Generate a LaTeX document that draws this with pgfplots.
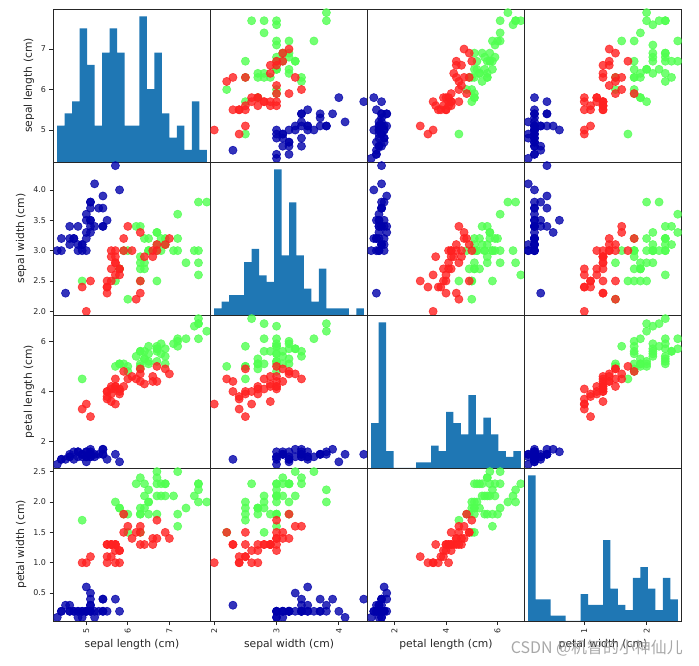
\documentclass[border=0pt]{standalone}
\usepackage{fontspec}
\setmainfont{DejaVu Sans}
\newfontfamily\cjk{Noto Sans CJK SC}
\usepackage{pgfplots}
\usepackage{pgfplotstable}
\pgfplotsset{compat=1.18}

\definecolor{cset}{HTML}{0000AA}
\definecolor{cver}{HTML}{FF2020}
\definecolor{cvir}{HTML}{50FF50}
\definecolor{histblue}{HTML}{1F77B4}

% training part of the iris data (112 samples)
\pgfplotstableread{
sl sw pl pw
5.1 3.5 1.4 0.2
4.9 3.0 1.4 0.2
4.7 3.2 1.3 0.2
4.6 3.1 1.5 0.2
5.0 3.6 1.4 0.2
5.4 3.9 1.7 0.4
4.6 3.4 1.4 0.3
4.9 3.1 1.5 0.1
5.4 3.7 1.5 0.2
4.8 3.4 1.6 0.2
4.8 3.0 1.4 0.1
4.3 3.0 1.1 0.1
5.8 4.0 1.2 0.2
5.7 4.4 1.5 0.4
5.1 3.5 1.4 0.3
5.1 3.8 1.5 0.3
5.4 3.4 1.7 0.2
5.1 3.7 1.5 0.4
5.1 3.3 1.7 0.5
5.0 3.0 1.6 0.2
5.2 3.4 1.4 0.2
4.7 3.2 1.6 0.2
4.8 3.1 1.6 0.2
5.4 3.4 1.5 0.4
5.2 4.1 1.5 0.1
4.9 3.1 1.5 0.2
5.0 3.2 1.2 0.2
5.5 3.5 1.3 0.2
4.4 3.0 1.3 0.2
5.1 3.4 1.5 0.2
4.5 2.3 1.3 0.3
4.4 3.2 1.3 0.2
5.0 3.5 1.6 0.6
5.1 3.8 1.6 0.2
4.6 3.2 1.4 0.2
5.3 3.7 1.5 0.2
5.0 3.3 1.4 0.2
}\setosa

\pgfplotstableread{
sl sw pl pw
7.0 3.2 4.7 1.4
6.9 3.1 4.9 1.5
5.5 2.3 4.0 1.3
5.7 2.8 4.5 1.3
6.3 3.3 4.7 1.6
4.9 2.4 3.3 1.0
6.6 2.9 4.6 1.3
5.0 2.0 3.5 1.0
5.9 3.0 4.2 1.5
5.6 2.9 3.6 1.3
6.7 3.1 4.4 1.4
5.8 2.7 4.1 1.0
6.2 2.2 4.5 1.5
5.6 2.5 3.9 1.1
5.9 3.2 4.8 1.8
6.3 2.5 4.9 1.5
6.4 2.9 4.3 1.3
6.6 3.0 4.4 1.4
6.7 3.0 5.0 1.7
5.7 2.6 3.5 1.0
5.5 2.4 3.8 1.1
5.5 2.4 3.7 1.0
5.8 2.7 3.9 1.2
6.0 3.4 4.5 1.6
6.3 2.3 4.4 1.3
5.6 3.0 4.1 1.3
5.5 2.5 4.0 1.3
6.1 3.0 4.6 1.4
5.8 2.6 4.0 1.2
5.6 2.7 4.2 1.3
5.7 3.0 4.2 1.2
5.7 2.9 4.2 1.3
5.1 2.5 3.0 1.1
5.7 2.8 4.1 1.3
}\versicolor

\pgfplotstableread{
sl sw pl pw
5.8 2.7 5.1 1.9
7.1 3.0 5.9 2.1
6.3 2.9 5.6 1.8
6.5 3.0 5.8 2.2
7.6 3.0 6.6 2.1
4.9 2.5 4.5 1.7
6.7 2.5 5.8 1.8
7.2 3.6 6.1 2.5
6.5 3.2 5.1 2.0
6.4 2.7 5.3 1.9
6.8 3.0 5.5 2.1
5.7 2.5 5.0 2.0
6.4 3.2 5.3 2.3
6.5 3.0 5.5 1.8
7.7 3.8 6.7 2.2
7.7 2.6 6.9 2.3
6.0 2.2 5.0 1.5
6.9 3.2 5.7 2.3
7.7 2.8 6.7 2.0
6.3 2.7 4.9 1.8
6.7 3.3 5.7 2.1
7.2 3.2 6.0 1.8
6.4 2.8 5.6 2.1
7.2 3.0 5.8 1.6
7.4 2.8 6.1 1.9
7.9 3.8 6.4 2.0
6.3 2.8 5.1 1.5
7.7 3.0 6.1 2.3
6.3 3.4 5.6 2.4
6.0 3.0 4.8 1.8
6.9 3.1 5.4 2.1
6.7 3.1 5.6 2.4
6.9 3.1 5.1 2.3
5.8 2.7 5.1 1.9
6.8 3.2 5.9 2.3
6.7 3.3 5.7 2.5
6.7 3.0 5.2 2.3
6.3 2.5 5.0 1.9
6.5 3.0 5.2 2.0
6.2 3.4 5.4 2.3
5.9 3.0 5.1 1.8
}\virginica

% histogram bins (20 bins): left edge, count; last row closes the interval
\pgfplotstableread{
e c
4.30 3
4.48 4
4.66 5
4.84 11
5.02 8
5.20 3
5.38 9
5.56 11
5.74 9
5.92 3
6.10 3
6.28 12
6.46 6
6.64 9
6.82 4
7.00 2
7.18 3
7.36 1
7.54 5
7.72 1
7.90 1
}\hsl
\pgfplotstableread{
e c
2.00 1
2.12 2
2.24 3
2.36 3
2.48 8
2.60 10
2.72 6
2.84 5
2.96 22
3.08 9
3.20 17
3.32 9
3.44 4
3.56 2
3.68 7
3.80 1
3.92 1
4.04 1
4.16 0
4.28 1
4.40 1
}\hsw
\pgfplotstableread{
e c
1.10 8
1.39 26
1.68 3
1.97 0
2.26 0
2.55 0
2.84 1
3.13 1
3.42 4
3.71 3
4.00 10
4.29 8
4.58 6
4.87 13
5.16 6
5.45 9
5.74 6
6.03 3
6.32 2
6.61 3
6.90 3
}\hpl
\pgfplotstableread{
e c
0.10 27
0.22 4
0.34 4
0.46 1
0.58 1
0.70 0
0.82 0
0.94 5
1.06 3
1.18 3
1.30 15
1.42 6
1.54 3
1.66 2
1.78 8
1.90 10
2.02 6
2.14 2
2.26 8
2.38 4
2.50 4
}\hpw

\pgfplotsset{
  cell/.style={scale only axis, width=157bp, height=153bp, anchor=north west,
    axis line style={line width=0.8bp, black!85},
    xtick=\empty, ytick=\empty,
    tick align=outside, major tick length=4bp,
    tick style={line width=0.8bp, black!85},
    xtick pos=bottom, ytick pos=left,
    ticklabel style={font=\fontsize{8}{9}\selectfont, text=black!85},
    xticklabel style={rotate=90, anchor=east},
    label style={font=\fontsize{10.8}{12}\selectfont, text=black!85},
    xlabel style={yshift=1bp},
    clip=true, clip marker paths=true},
  sl x/.style={xmin=4.21, xmax=7.99}, sl y/.style={ymin=4.21, ymax=7.99},
  sw x/.style={xmin=1.94, xmax=4.46}, sw y/.style={ymin=1.94, ymax=4.46},
  pl x/.style={xmin=0.955, xmax=7.045}, pl y/.style={ymin=0.955, ymax=7.045},
  pw x/.style={xmin=0.04, xmax=2.56}, pw y/.style={ymin=0.04, ymax=2.56},
  dot/.style={only marks, mark=*, mark size=4.1bp, color=#1,
    mark options={solid, draw=#1, fill=#1, opacity=0.8, line width=0.6bp}},
}

\newcommand\scell[4]{%
\begin{axis}[cell, at={#1}, #2 x, #3 y, #4]
\addplot[dot=cvir] table[x=#2, y=#3] {\virginica};
\addplot[dot=cver] table[x=#2, y=#3] {\versicolor};
\addplot[dot=cset] table[x=#2, y=#3] {\setosa};
\end{axis}}

\newcommand\hcell[4]{%
\begin{axis}[cell, at={#1}, #2 x, ymin=0, #4]
\addplot[ybar interval, fill=histblue, draw=none] table[x=e, y=c] {#3};
\end{axis}}

\begin{document}
\begin{tikzpicture}
\path[use as bounding box] (0,0) rectangle (699bp,666bp);
% row 0
\hcell{(53.5bp,657bp)}{sl}{\hsl}{ymax=12.6, ytick={2.6333,5.9667,9.3}, yticklabels={5,6,7}, ylabel={sepal length (cm)}}
\scell{(210.5bp,657bp)}{sw}{sl}{}
\scell{(367.5bp,657bp)}{pl}{sl}{}
\scell{(524.5bp,657bp)}{pw}{sl}{}
% row 1
\scell{(53.5bp,504bp)}{sl}{sw}{ytick={2,2.5,3,3.5,4}, yticklabels={2.0,2.5,3.0,3.5,4.0}, ylabel={sepal width (cm)}}
\hcell{(210.5bp,504bp)}{sw}{\hsw}{ymax=23.1}
\scell{(367.5bp,504bp)}{pl}{sw}{}
\scell{(524.5bp,504bp)}{pw}{sw}{}
% row 2
\scell{(53.5bp,351bp)}{sl}{pl}{ytick={2,4,6}, yticklabels={2,4,6}, ylabel={petal length (cm)}}
\scell{(210.5bp,351bp)}{sw}{pl}{}
\hcell{(367.5bp,351bp)}{pl}{\hpl}{ymax=27.3}
\scell{(524.5bp,351bp)}{pw}{pl}{}
% row 3
\scell{(53.5bp,198bp)}{sl}{pw}{ytick={0.5,1,1.5,2,2.5}, yticklabels={0.5,1.0,1.5,2.0,2.5}, ylabel={petal width (cm)}, xtick={5,6,7}, xticklabels={5,6,7}, xlabel={sepal length (cm)}}
\scell{(210.5bp,198bp)}{sw}{pw}{xtick={2,3,4}, xticklabels={2,3,4}, xlabel={sepal width (cm)}}
\scell{(367.5bp,198bp)}{pl}{pw}{xtick={2,4,6}, xticklabels={2,4,6}, xlabel={petal length (cm)}}
\hcell{(524.5bp,198bp)}{pw}{\hpw}{ymax=28.35, xtick={1,2}, xticklabels={1,2}, xlabel={petal width (cm)}}
% watermark
\node[anchor=base east, inner sep=0pt, text=black!40, opacity=0.85, font=\cjk\fontsize{16}{18}\selectfont] at (683bp,12.5bp) {CSDN @机智的小神仙儿};
\end{tikzpicture}
\end{document}
